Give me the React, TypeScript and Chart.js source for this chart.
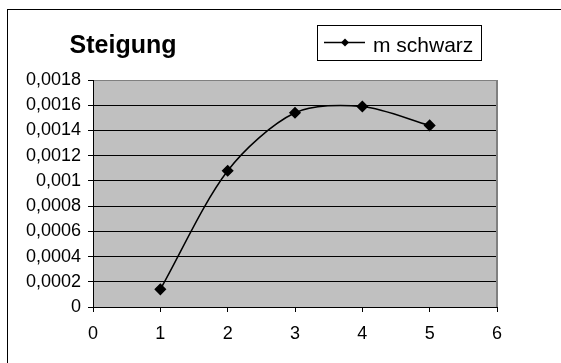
import React, { useEffect, useRef } from 'react';
import { Chart, registerables } from 'chart.js';

Chart.register(...registerables);

const titleText = 'Steigung';
const seriesLabel = 'm schwarz';
const xValues = [1, 2, 3, 4, 5];
const mSchwarz = [0.00014, 0.00108, 0.00154, 0.00159, 0.00144];
const xTickLabels = ['0', '1', '2', '3', '4', '5', '6'];
const yTickLabels = ['0', '0,0002', '0,0004', '0,0006', '0,0008', '0,001', '0,0012', '0,0014', '0,0016', '0,0018'];

const FONT = '"Liberation Sans", Arial, sans-serif';

function diamond(ctx: CanvasRenderingContext2D, x: number, y: number, r: number) {
  ctx.beginPath();
  ctx.moveTo(x, y - r);
  ctx.lineTo(x + r, y);
  ctx.lineTo(x, y + r);
  ctx.lineTo(x - r, y);
  ctx.closePath();
  ctx.fill();
}

const deco = {
  id: 'deco',
  beforeDraw(chart: any) {
    const { ctx, chartArea: a } = chart;
    ctx.save();
    ctx.fillStyle = '#ffffff';
    ctx.fillRect(0, 0, chart.width, chart.height);
    ctx.fillStyle = '#c0c0c0';
    ctx.fillRect(a.left, a.top, a.right - a.left, a.bottom - a.top);
    ctx.restore();
  },
  beforeDatasetsDraw(chart: any) {
    const { ctx, chartArea: a } = chart;
    ctx.save();
    ctx.strokeStyle = '#808080';
    ctx.lineWidth = 2;
    ctx.beginPath();
    ctx.moveTo(Math.round(a.right), a.top);
    ctx.lineTo(Math.round(a.right), a.bottom);
    ctx.stroke();
    ctx.restore();
  },
  afterDraw(chart: any) {
    const { ctx } = chart;
    ctx.save();
    // outer frame
    ctx.strokeStyle = '#000';
    ctx.lineWidth = 1;
    ctx.strokeRect(7.5, 9.5, 700, 500);
    // title
    ctx.fillStyle = '#000';
    ctx.font = 'bold 25px ' + FONT;
    ctx.textAlign = 'center';
    ctx.textBaseline = 'alphabetic';
    ctx.fillText(titleText, 123, 53);
    // legend
    ctx.strokeRect(317.5, 25.5, 164, 35);
    ctx.lineWidth = 1.5;
    ctx.beginPath();
    ctx.moveTo(324, 42.5);
    ctx.lineTo(365, 42.5);
    ctx.stroke();
    diamond(ctx, 345, 42.5, 4);
    ctx.font = '21px ' + FONT;
    ctx.textAlign = 'left';
    ctx.fillText(seriesLabel, 373, 52);
    ctx.restore();
  },
};

export default function App() {
  const ref = useRef<HTMLCanvasElement | null>(null);
  useEffect(() => {
    if (!ref.current) return;
    Chart.defaults.font.family = FONT;
    Chart.defaults.font.size = 18;
    Chart.defaults.color = '#000';
    const chart = new Chart(ref.current, {
      type: 'line',
      data: {
        datasets: [
          {
            label: seriesLabel,
            data: xValues.map((x, i) => ({ x, y: mSchwarz[i] })),
            borderColor: '#000',
            backgroundColor: '#000',
            borderWidth: 1.5,
            pointStyle: 'rectRot',
            pointRadius: 5,
            pointBackgroundColor: '#000',
            pointBorderColor: '#000',
            tension: 0.3,
            fill: false,
          },
        ],
      },
      options: {
        animation: false,
        responsive: false,
        layout: { padding: { left: 0, top: 80, right: 64, bottom: 0 } },
        plugins: { legend: { display: false }, title: { display: false }, tooltip: { enabled: false } },
        scales: {
          x: {
            type: 'linear',
            min: 0,
            max: 6,
            afterFit: (s: any) => { s.height = 56; },
            ticks: {
              stepSize: 1,
              padding: 11,
              font: { size: 18 },
              callback: (_v: any, i: number) => xTickLabels[i],
            },
            grid: { drawOnChartArea: false, drawTicks: true, tickLength: 5, tickColor: '#000' },
            border: { display: true, color: '#000', width: 1 },
          },
          y: {
            type: 'linear',
            min: 0,
            max: 0.0018,
            afterFit: (s: any) => { s.width = 93; },
            ticks: {
              stepSize: 0.0002,
              padding: 7,
              font: { size: 18 },
              callback: (_v: any, i: number) => yTickLabels[i],
            },
            grid: {
              color: (c: any) => (c.index === yTickLabels.length - 1 ? '#808080' : '#000'),
              lineWidth: 1,
              tickLength: 5,
              tickColor: '#000',
            },
            border: { display: true, color: '#000', width: 1 },
          },
        },
      },
      plugins: [deco],
    });
    return () => chart.destroy();
  }, []);
  return (
    <div style={{ position: 'absolute', left: 0, top: 0, width: 561, height: 363 }}>
      <canvas ref={ref} width={561} height={363} style={{ display: 'block' }} />
    </div>
  );
}
